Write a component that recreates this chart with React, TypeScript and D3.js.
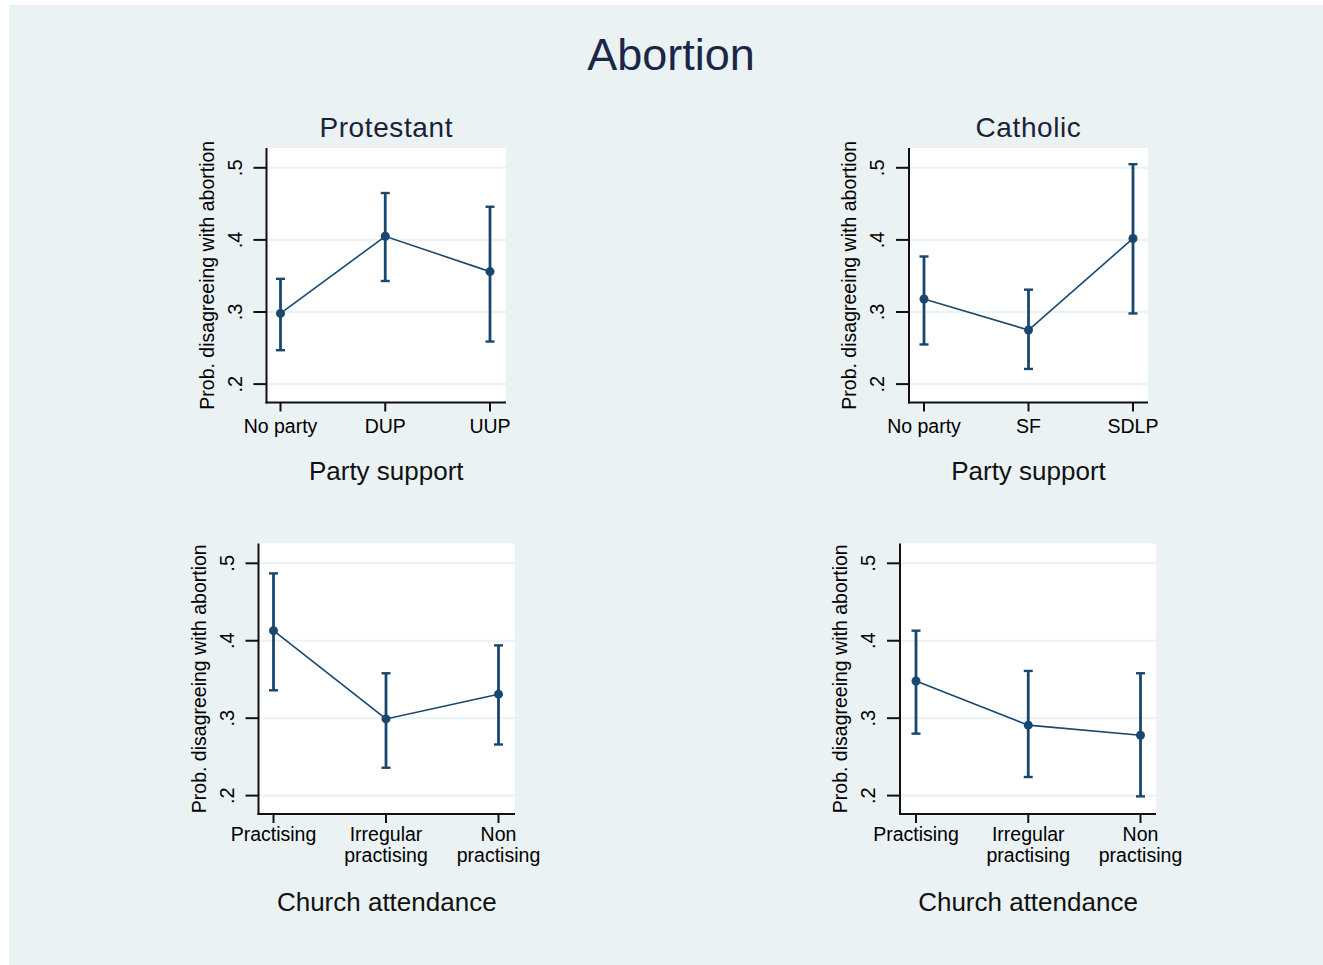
import React from "react";
import * as d3 from "d3";

// ---------- data ----------
const partyProtestant = ["No party", "DUP", "UUP"];
const protPartyEst = [0.298, 0.405, 0.356];
const protPartyLo = [0.247, 0.343, 0.259];
const protPartyHi = [0.346, 0.465, 0.446];

const partyCatholic = ["No party", "SF", "SDLP"];
const cathPartyEst = [0.318, 0.275, 0.402];
const cathPartyLo = [0.255, 0.221, 0.298];
const cathPartyHi = [0.377, 0.331, 0.505];

const attendance = ["Practising", "Irregular|practising", "Non|practising"];
const protAttEst = [0.413, 0.299, 0.331];
const protAttLo = [0.336, 0.236, 0.266];
const protAttHi = [0.487, 0.358, 0.394];

const cathAttEst = [0.348, 0.291, 0.278];
const cathAttLo = [0.28, 0.224, 0.199];
const cathAttHi = [0.413, 0.361, 0.358];

const yTicks = [0.2, 0.3, 0.4, 0.5];
const yTickLabels = [".2", ".3", ".4", ".5"];

const mainTitle = "Abortion";
const yTitle = "Prob. disagreeing with abortion";
const partyTitle = "Party support";
const attendanceTitle = "Church attendance";

// ---------- style ----------
const BG = "#eaf2f3";
const NAVY = "#1a476f";
const FONT = "'Liberation Sans', Arial, Helvetica, sans-serif";

type PanelCfg = {
  title?: string;
  cats: string[];
  est: number[];
  lo: number[];
  hi: number[];
  xTitle: string;
  left: number;
  right: number;
  top: number;
  bottom: number;
  padL: number;
  padR: number;
  tickLabelY: number;
  xTitleY: number;
};

const panels: PanelCfg[] = [
  {
    title: "Protestant",
    cats: partyProtestant,
    est: protPartyEst,
    lo: protPartyLo,
    hi: protPartyHi,
    xTitle: partyTitle,
    left: 266.5,
    right: 506,
    top: 148,
    bottom: 402.5,
    padL: 14,
    padR: 16,
    tickLabelY: 433,
    xTitleY: 479.5,
  },
  {
    title: "Catholic",
    cats: partyCatholic,
    est: cathPartyEst,
    lo: cathPartyLo,
    hi: cathPartyHi,
    xTitle: partyTitle,
    left: 909,
    right: 1148,
    top: 148,
    bottom: 402.5,
    padL: 15,
    padR: 15,
    tickLabelY: 433,
    xTitleY: 479.5,
  },
  {
    cats: attendance,
    est: protAttEst,
    lo: protAttLo,
    hi: protAttHi,
    xTitle: attendanceTitle,
    left: 258.5,
    right: 515,
    top: 543.5,
    bottom: 814,
    padL: 15,
    padR: 16.5,
    tickLabelY: 841,
    xTitleY: 910.5,
  },
  {
    cats: attendance,
    est: cathAttEst,
    lo: cathAttLo,
    hi: cathAttHi,
    xTitle: attendanceTitle,
    left: 900,
    right: 1156,
    top: 543.5,
    bottom: 814,
    padL: 16,
    padR: 15.5,
    tickLabelY: 841,
    xTitleY: 910.5,
  },
];

function Panel({ cfg }: { cfg: PanelCfg }) {
  const x = d3
    .scalePoint<string>()
    .domain(cfg.cats)
    .range([cfg.left + cfg.padL, cfg.right - cfg.padR]);
  const y = d3
    .scaleLinear()
    .domain([0.2, 0.5])
    .range([cfg.bottom - 18.4, cfg.top + 19.8]);
  const pts = cfg.cats.map((c, i) => ({
    c,
    e: cfg.est[i],
    lo: cfg.lo[i],
    hi: cfg.hi[i],
  }));
  const line = d3
    .line<(typeof pts)[number]>()
    .x((d) => x(d.c)!)
    .y((d) => y(d.e));
  const cx = (cfg.left + cfg.right) / 2;
  const cy = (cfg.top + cfg.bottom) / 2;
  const capW = 4.5;
  return (
    <g>
      <rect
        x={cfg.left}
        y={cfg.top}
        width={cfg.right - cfg.left}
        height={cfg.bottom - cfg.top}
        fill="#ffffff"
      />
      {yTicks.map((t) => (
        <line
          key={"g" + t}
          x1={cfg.left}
          x2={cfg.right}
          y1={y(t)}
          y2={y(t)}
          stroke={BG}
          strokeWidth={2}
        />
      ))}
      {/* series */}
      <path d={line(pts) || ""} fill="none" stroke={NAVY} strokeWidth={1.6} />
      {pts.map((d) => (
        <g key={"e" + d.c}>
          <line
            x1={x(d.c)}
            x2={x(d.c)}
            y1={y(d.lo)}
            y2={y(d.hi)}
            stroke={NAVY}
            strokeWidth={2.8}
          />
          <line
            x1={x(d.c)! - capW}
            x2={x(d.c)! + capW}
            y1={y(d.lo)}
            y2={y(d.lo)}
            stroke={NAVY}
            strokeWidth={2.4}
          />
          <line
            x1={x(d.c)! - capW}
            x2={x(d.c)! + capW}
            y1={y(d.hi)}
            y2={y(d.hi)}
            stroke={NAVY}
            strokeWidth={2.4}
          />
          <circle cx={x(d.c)} cy={y(d.e)} r={4.5} fill={NAVY} />
        </g>
      ))}
      {/* axes */}
      <line
        x1={cfg.left}
        x2={cfg.left}
        y1={cfg.top}
        y2={cfg.bottom + 1}
        stroke="#111"
        strokeWidth={2}
      />
      <line
        x1={cfg.left - 1}
        x2={cfg.right}
        y1={cfg.bottom}
        y2={cfg.bottom}
        stroke="#111"
        strokeWidth={2}
      />
      {yTicks.map((t, i) => (
        <g key={"yt" + t}>
          <line
            x1={cfg.left - 13}
            x2={cfg.left}
            y1={y(t)}
            y2={y(t)}
            stroke="#111"
            strokeWidth={2}
          />
          <text
            transform={`translate(${cfg.left - 25},${y(t)}) rotate(-90)`}
            textAnchor="middle"
            fontSize={20}
            fontFamily={FONT}
            fill="#000"
          >
            {yTickLabels[i]}
          </text>
        </g>
      ))}
      {cfg.cats.map((c) => (
        <g key={"xt" + c}>
          <line
            x1={x(c)}
            x2={x(c)}
            y1={cfg.bottom}
            y2={cfg.bottom + 9}
            stroke="#111"
            strokeWidth={2}
          />
          {c.split("|").map((ln, j) => (
            <text
              key={j}
              x={x(c)}
              y={cfg.tickLabelY + j * 20.5}
              textAnchor="middle"
              fontSize={19.5}
              fontFamily={FONT}
              fill="#000"
            >
              {ln}
            </text>
          ))}
        </g>
      ))}
      <text
        transform={`translate(${cfg.left - 53},${cy}) rotate(-90)`}
        textAnchor="middle"
        fontSize={19.5}
        fontFamily={FONT}
        fill="#000"
      >
        {yTitle}
      </text>
      <text
        x={cx}
        y={cfg.xTitleY}
        textAnchor="middle"
        fontSize={26}
        fontFamily={FONT}
        fill="#111"
      >
        {cfg.xTitle}
      </text>
      {cfg.title && (
        <text
          x={cx}
          y={137}
          textAnchor="middle"
          fontSize={28}
          letterSpacing={0.6}
          fontFamily={FONT}
          fill="#1b2238"
        >
          {cfg.title}
        </text>
      )}
    </g>
  );
}

export default function App() {
  return (
    <svg
      width={1323}
      height={965}
      style={{ position: "absolute", left: 0, top: 0, display: "block" }}
    >
      <rect x={0} y={0} width={1323} height={965} fill="#ffffff" />
      <rect x={9} y={5} width={1314} height={960} fill={BG} />
      <text
        x={671}
        y={70}
        textAnchor="middle"
        fontSize={45}
        fontFamily={FONT}
        fill="#1c2647"
      >
        {mainTitle}
      </text>
      {panels.map((p, i) => (
        <Panel key={i} cfg={p} />
      ))}
    </svg>
  );
}
